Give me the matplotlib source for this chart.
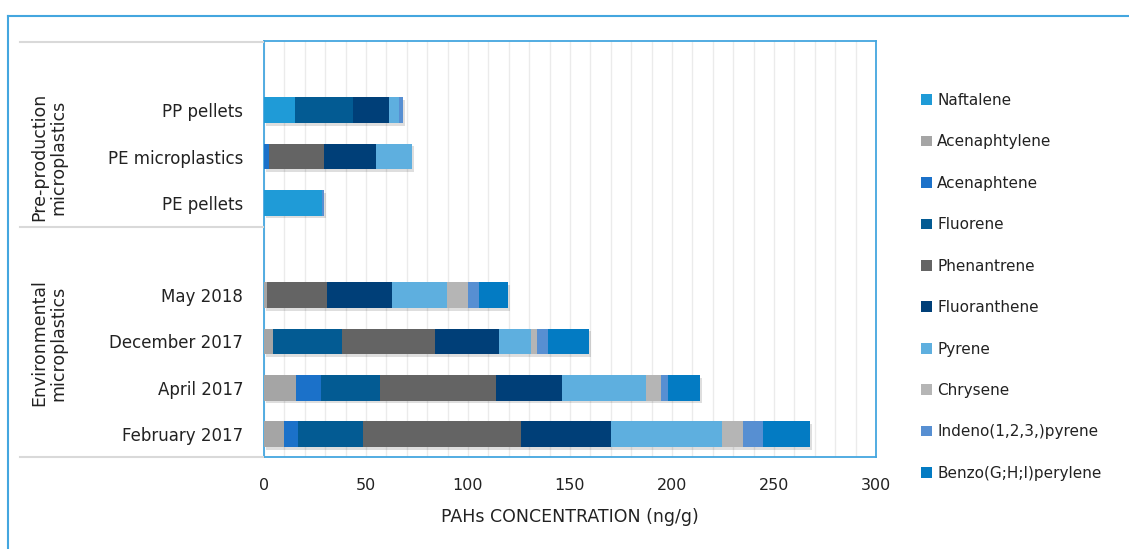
import matplotlib.pyplot as plt
import matplotlib.patheffects as pe
from matplotlib.lines import Line2D
from matplotlib.patches import Patch
import numpy as np

# categories, bottom to top, grouped
env_cats = ['February 2017', 'April 2017', 'December 2017', 'May 2018']
pre_cats = ['PE pellets', 'PE microplastics', 'PP pellets']
categories = env_cats + pre_cats

compounds = ['Naftalene', 'Acenaphtylene', 'Acenaphtene', 'Fluorene', 'Phenantrene',
             'Fluoranthene', 'Pyrene', 'Chrysene', 'Indeno(1,2,3,)pyrene', 'Benzo(G;H;I)perylene']

# values (ng/g), same order as categories
naftalene     = [0.0, 0.0, 0.0, 0.0, 28.3, 0.0, 15.0]
acenaphtylene = [9.8, 15.7, 4.6, 1.3, 0.0, 0.0, 0.0]
acenaphtene   = [6.7, 12.1, 0.0, 0.0, 0.0, 2.5, 0.0]
fluorene      = [32.2, 29.2, 33.5, 0.0, 0.0, 0.0, 28.8]
phenantrene   = [77.3, 56.6, 45.9, 29.4, 0.0, 27.0, 0.0]
fluoranthene  = [44.2, 32.6, 31.3, 32.2, 0.0, 25.5, 17.3]
pyrene        = [54.3, 41.2, 15.4, 27.0, 0.0, 17.5, 4.9]
chrysene      = [10.3, 7.4, 3.3, 10.0, 0.0, 0.0, 0.0]
indeno        = [9.8, 3.4, 5.4, 5.3, 1.3, 0.0, 2.3]
benzo         = [23.2, 15.7, 19.9, 14.4, 0.0, 0.0, 0.0]

series = [naftalene, acenaphtylene, acenaphtene, fluorene, phenantrene,
          fluoranthene, pyrene, chrysene, indeno, benzo]
colors = ['#1F9BD7', '#A5A5A5', '#1B71C9', '#035B93', '#646464',
          '#003F78', '#5EAFDF', '#B5B5B5', '#578FD2', '#037BC3']

# each group has one empty slot above it
ypos = list(range(len(env_cats))) + [len(env_cats) + 1 + i for i in range(len(pre_cats))]
nslots = len(env_cats) + len(pre_cats) + 2

W, H = 1129, 549
fig = plt.figure(figsize=(W / 100, H / 100), dpi=100)
ax = fig.add_axes([264 / W, 1 - 457 / H, (876 - 264) / W, (457 - 41) / H])

frame_blue = '#44A6DF'
shadow = [pe.SimplePatchShadow(offset=(1.5, -2), shadow_rgbFace='#000000', alpha=0.13), pe.Normal()]

left = np.zeros(len(categories))
for vals, col, name in zip(series, colors, compounds):
    v = np.array(vals)
    bars = ax.barh(ypos, v, left=left, height=0.56, color=col, zorder=3)
    for b, val in zip(bars, v):
        if val > 0:
            b.set_path_effects(shadow)
        else:
            b.set_visible(False)
    left += v

ax.set_xlim(0, 300)
ax.set_ylim(-0.5, nslots - 0.5)
ax.set_xticks(np.arange(0, 301, 50))
ax.set_xticks(np.arange(0, 301, 10), minor=True)
ax.grid(axis='x', which='both', color='#EBEBEB', lw=1, zorder=0)
ax.set_yticks(ypos)
ax.set_yticklabels(categories, fontsize=12, color='#222222')
ax.tick_params(axis='both', which='both', length=0)
ax.tick_params(axis='y', pad=15)
ax.tick_params(axis='x', pad=15, labelsize=11.5, labelcolor='#222222')
for s in ax.spines.values():
    s.set_color(frame_blue)
    s.set_linewidth(1.3)
ax.set_xlabel('PAHs CONCENTRATION (ng/g)', fontsize=12.5, color='#222222', labelpad=11)

# group separators and labels
for yy in [42, 227, 457]:
    fig.add_artist(Line2D([20 / W, 263 / W], [1 - yy / H, 1 - yy / H], color='#D9D9D9', lw=1.5))
fig.text(49 / W, 1 - 157 / H, 'Pre-production\nmicroplastics', rotation=90, ha='center', va='center',
         fontsize=12.5, color='#222222', linespacing=1.05, multialignment='center')
fig.text(49 / W, 1 - 343 / H, 'Environmental\nmicroplastics', rotation=90, ha='center', va='center',
         fontsize=12.5, color='#222222', linespacing=1.05, multialignment='center')

# outer frame
fig.add_artist(Line2D([8 / W, 1], [1 - 16 / H, 1 - 16 / H], color=frame_blue, lw=1.5))
fig.add_artist(Line2D([8 / W, 8 / W], [0, 1 - 16 / H], color=frame_blue, lw=1.5))

handles = [Patch(facecolor=c, edgecolor='none') for c in colors]
leg = fig.legend(handles, compounds, loc='upper left', bbox_to_anchor=(921 / W, 1 - 93 / H),
                 frameon=False, fontsize=11, handlelength=0.7, handleheight=0.7,
                 handletextpad=0.35, labelspacing=1.73, borderaxespad=0, borderpad=0)
for t in leg.get_texts():
    t.set_color('#222222')

fig.savefig('out.png', dpi=100)
